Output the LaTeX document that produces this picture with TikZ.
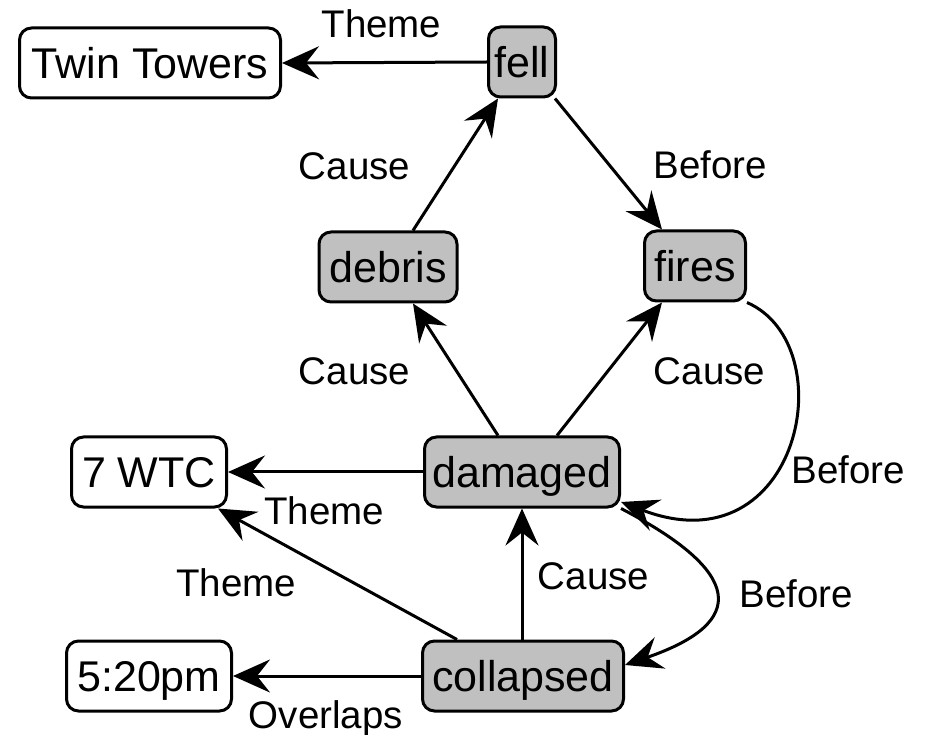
\documentclass[tikz,border=0pt]{standalone}
\usepackage{fontspec}
\setmainfont{Liberation Sans}
\usetikzlibrary{arrows.meta,calc}

\definecolor{eventfill}{RGB}{192,192,192}

\tikzset{
  box/.style={draw=black, line width=3pt, rounded corners=12pt,
    minimum height=70pt, inner xsep=2pt, inner ysep=0pt,
    text height=30.8pt, text depth=0pt,
    font=\fontsize{43pt}{50pt}\selectfont},
  entity/.style={box, fill=white},
  event/.style={box, fill=eventfill},
  lbl/.style={inner sep=0pt, text height=27.6pt, text depth=0pt,
    font=\fontsize{38.5pt}{45pt}\selectfont},
  conn/.style={line width=3pt, -{Stealth[length=37pt, width=33pt, inset=13pt]}}
}

\begin{document}
\begin{tikzpicture}[x=1pt, y=-1pt]
  \useasboundingbox (0,0) rectangle (930,735);

  % nodes
  \node[entity, minimum width=261pt] (tt)   at (150,63)  {Twin Towers};
  \node[event,  minimum width=67pt]  (fell) at (522,62)  {fell};
  \node[event,  minimum width=138pt] (debris) at (388,267) {debris};
  \node[event,  minimum width=101pt] (fires)  at (695,266) {fires};
  \node[event,  minimum width=195pt] (damaged) at (522,472) {damaged};
  \node[entity, minimum width=155pt] (wtc)  at (149,472) {7 WTC};
  \node[event,  minimum width=201pt] (collapsed) at (523,676) {collapsed};
  \node[entity, minimum width=165pt] (pm)   at (149,676) {5:20pm};

  % straight connectors
  \draw[conn] (fell.west) -- (tt.east);
  \draw[conn] ([xshift=25pt]debris.north) -- ([xshift=-24pt]fell.south);
  \draw[conn] ([xshift=-2pt]fell.south east) -- ([xshift=-33pt]fires.north);
  \draw[conn] ([xshift=-24pt]damaged.north) -- ([xshift=25pt]debris.south);
  \draw[conn] ([xshift=35pt]damaged.north) -- ([xshift=-33pt]fires.south);
  \draw[conn] (damaged.west) -- (wtc.east);
  \draw[conn] ([xshift=-66pt]collapsed.north) -- ([xshift=-10pt]wtc.south east);
  \draw[conn] (collapsed.north -| damaged.south) -- (damaged.south);
  \draw[conn] (collapsed.west) -- (pm.east);

  % curved connectors
  \draw[conn] (fires.south east)
    .. controls ($(fires.south east)+(98,43)$) and ($([yshift=6.5pt]damaged.south east)+(179,68)$)
    .. ([yshift=6.5pt]damaged.south east);
  \draw[conn] (damaged.south east)
    .. controls ($(damaged.south east)+(121,63)$) and ($([yshift=11pt]collapsed.east)+(125,-43)$)
    .. ([yshift=11pt]collapsed.east);

  % connector labels
  \node[lbl] (l1)  at (381.5,23.5) {Theme};
  \node[lbl] (l2)  at (354.5,166)  {Cause};
  \node[lbl] (l3)  at (710.5,165)  {Before};
  \node[lbl] (l4)  at (354.5,371)  {Cause};
  \node[lbl] (l5)  at (709.5,371)  {Cause};
  \node[lbl] (l6)  at (324,511)    {Theme};
  \node[lbl] (l7)  at (236,582.5)  {Theme};
  \node[lbl] (l8)  at (593.5,576)  {Cause};
  \node[lbl] (l9)  at (326,714.5)  {Overlaps};
  \node[lbl] (l10) at (848.5,469.5) {Before};
  \node[lbl] (l11) at (796.5,593.5) {Before};
\end{tikzpicture}
\end{document}
